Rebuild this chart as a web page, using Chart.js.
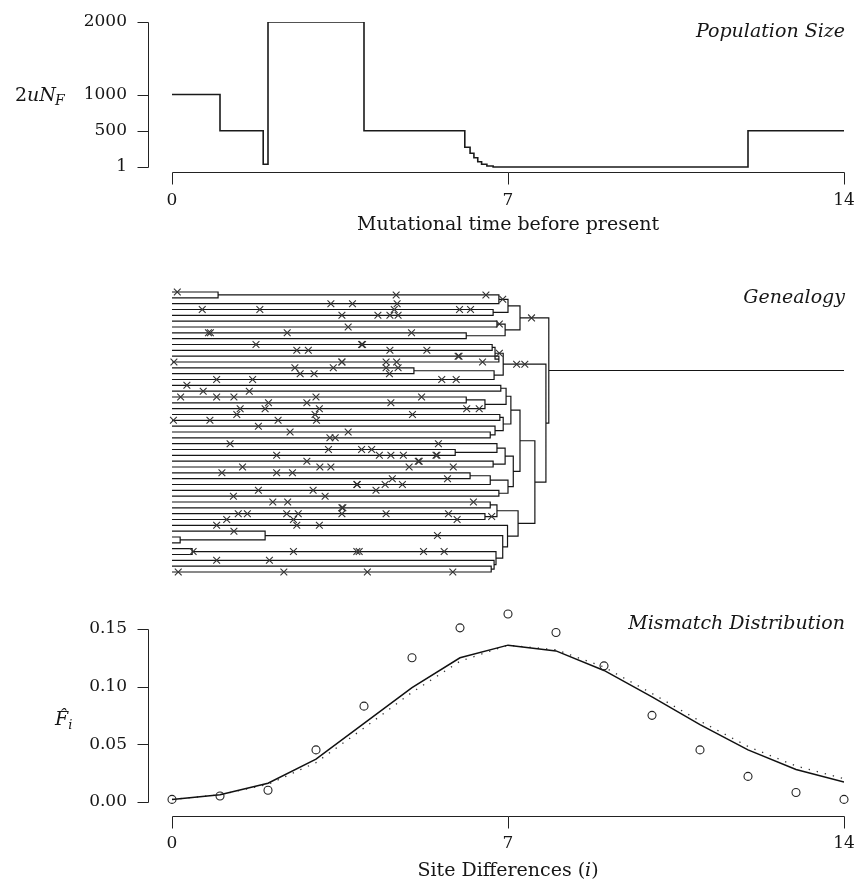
<!DOCTYPE html>
<html>
<head>
<meta charset="utf-8">
<script src="https://cdn.jsdelivr.net/npm/chart.js@4/dist/chart.umd.min.js"></script>
<style>
  html, body { margin: 0; padding: 0; background: #ffffff; }
  #wrap { position: relative; width: 859px; height: 885px; overflow: hidden; }
  canvas { position: absolute; left: 0; }
</style>
</head>
<body>
<div id="wrap">
  <canvas id="popChart" width="859" height="250" style="top:0px"></canvas>
  <canvas id="treeChart" width="859" height="340" style="top:250px"></canvas>
  <canvas id="misChart" width="859" height="295" style="top:590px"></canvas>
</div>
<script>
// ---------------- DATA ----------------
const timeTicks = [0, 7, 14];
const popTicks = [1, 500, 1000, 2000];
// population size (2uN_F) step function: value holds from each time to the next
const popTimes = [0, 1.0, 1.9, 2.0, 4.0, 6.10, 6.21, 6.29, 6.37, 6.45, 6.56, 6.69, 12.0, 14];
const popSizes = [1000, 500, 38, 2000, 500, 273, 190, 129, 74, 38, 15, 1, 500, 500];

const siteDiffs = [0, 1, 2, 3, 4, 5, 6, 7, 8, 9, 10, 11, 12, 13, 14];
const observedF = [0.002, 0.005, 0.010, 0.045, 0.083, 0.125, 0.151, 0.163, 0.147, 0.118, 0.075, 0.045, 0.022, 0.008, 0.002];
const expectedF = [0.002, 0.006, 0.016, 0.037, 0.068, 0.099, 0.125, 0.136, 0.131, 0.114, 0.091, 0.067, 0.045, 0.028, 0.017];
const expectedF2 = [0.002, 0.006, 0.015, 0.034, 0.064, 0.095, 0.122, 0.136, 0.132, 0.117, 0.094, 0.070, 0.048, 0.031, 0.020];
const freqTicks = [0, 0.05, 0.10, 0.15];

// genealogy: internal node = [time, left, right]; tip = row index
const genealogy =
[7.85,
  [7.25,
    [7.00, [6.81, [0.96, 0, 1], 2], [6.69, 3, 4]],
    [6.94, [6.77, 5, 6], [6.13, 7, 8]]
  ],
  [7.79,
    [6.90, [6.73, [6.67, 9, 10], [6.81, 11, 12]], [6.71, [5.04, 13, 14], 15]],
    [7.56,
      [7.25,
        [7.06, [6.96, [6.85, 16, 17], [6.52, [6.13, 18, 19], 20]], [6.90, [6.83, 21, 22], [6.73, 23, [6.63, 24, 25]]]],
        [7.11, [6.94, [6.77, 26, [5.90, 27, 28]], [6.69, 29, 30]], [7.00, [6.63, [6.21, 31, 32], 33], [6.81, 34, 35]]]
      ],
      [7.21,
        [6.77, [6.63, 36, 37], [6.52, 38, 39]],
        [6.99, 40, [6.89, [1.94, 41, [0.17, 42, 43]], [6.75, [0.42, 44, 45], [6.71, 46, [6.65, 47, 48]]]]]
      ]
    ]
  ]
];
const treeSpan = 14;

// mutations: [time, approximate row]
const mutations = [
 [0.11,0.3],[3.76,1.5],[3.31,2.4],[0.63,3.4],[1.83,3.4],[3.54,4.4],[3.67,6.4],[0.76,7.4],[0.80,7.4],[2.40,7.4],
 [1.75,9.4],[2.60,10.3],[2.84,10.3],[0.04,12.3],[3.54,11.9],[2.56,13.1],[3.36,13.4],[2.67,14.4],[2.96,14.4],[0.93,15.4],
 [1.68,15.4],[0.31,16.3],[0.65,17.3],[1.61,17.3],[0.18,18.2],[0.93,18.2],[1.29,18.2],[3.00,18.2],[2.81,19.3],[2.01,19.4],
 [1.42,20.4],[1.94,20.4],[3.07,20.2],[1.35,21.1],[2.98,21.1],[0.03,22.2],[0.79,22.2],[2.21,22.2],[3.01,22.2],[1.80,23.1],
 [4.67,0.1],[6.54,0.1],[4.69,1.5],[6.89,1.7],[4.63,3.4],[5.99,3.5],[6.22,3.5],[4.29,4.3],[4.54,4.3],[4.71,4.2],
 [7.49,4.2],[6.82,5.3],[4.99,7.4],[3.97,9.4],[3.95,9.4],[4.54,10.3],[5.31,10.3],[5.96,11.4],[5.98,11.4],[6.82,10.3],
 [7.18,11.7],[7.35,11.7],[3.54,12.3],[4.46,12.0],[4.68,12.0],[4.46,13.1],[4.71,13.1],[6.47,12.3],[4.53,14.4],[5.62,15.4],
 [5.92,15.4],[5.20,18.2],[4.56,19.4],[6.14,19.4],[6.40,20.4],[5.01,21.3],
 [2.46,24.2],[3.29,25.1],[3.40,25.1],[3.67,24.2],[1.21,26.1],[3.26,27.2],[2.18,28.1],[2.81,29.1],[3.08,30.1],[3.31,30.1],
 [1.47,30.1],[1.04,31.0],[2.18,31.0],[2.51,31.0],[3.85,32.9],[1.80,33.9],[2.94,33.9],[3.19,35.0],[1.28,35.1],[2.10,36.0],
 [2.41,36.0],[3.54,36.9],[3.56,36.9],[3.54,37.9],[1.38,37.9],[1.57,37.9],[2.39,37.9],[2.63,37.9],[1.14,38.9],[2.53,38.9],
 [0.93,40.1],[2.60,40.1],[3.07,40.1],[1.29,41.0],[2.53,43.7],[0.44,44.5],[3.85,43.7],[0.93,46.4],[2.03,46.4],[0.13,48.0],
 [2.33,48.0],
 [5.55,25.7],[3.95,27.2],[4.16,27.2],[4.32,28.1],[4.56,28.1],[4.82,28.1],[5.13,29.1],[5.15,29.1],[5.50,28.1],[5.52,28.1],
 [4.94,30.1],[5.86,30.1],[3.86,33.0],[4.44,33.0],[4.59,32.1],[4.80,33.0],[4.25,34.1],[5.74,32.1],[6.28,36.1],[4.46,37.9],
 [5.76,37.9],[5.94,39.0],[6.66,39.0],[5.53,41.4],[3.90,43.7],[5.24,43.7],[5.67,43.7],[4.07,48.0],[5.85,48.0]
];

// ---------------- HELPERS ----------------
const SERIF = '"DejaVu Serif", "Liberation Serif", serif';
const INK = '#161616';
Chart.defaults.animation = false;
Chart.defaults.events = [];
Chart.defaults.font.family = SERIF;
Chart.defaults.color = INK;

function rAxes(xt, yt) {
  return {
    id: 'rAxes',
    afterDatasetsDraw(chart) {
      const { ctx, chartArea: a, scales: { x, y } } = chart;
      ctx.save();
      ctx.strokeStyle = '#222';
      ctx.lineWidth = 1;
      ctx.beginPath();
      const by = Math.round(a.bottom) + 0.5;
      ctx.moveTo(Math.round(x.getPixelForValue(xt[0])) + 0.5, by);
      ctx.lineTo(Math.round(x.getPixelForValue(xt[xt.length - 1])) + 0.5, by);
      xt.forEach(v => { const p = Math.round(x.getPixelForValue(v)) + 0.5; ctx.moveTo(p, by); ctx.lineTo(p, by + 12); });
      const lx = Math.round(a.left) + 0.5;
      ctx.moveTo(lx, Math.round(y.getPixelForValue(yt[0])) + 0.5);
      ctx.lineTo(lx, Math.round(y.getPixelForValue(yt[yt.length - 1])) + 0.5);
      yt.forEach(v => { const p = Math.round(y.getPixelForValue(v)) + 0.5; ctx.moveTo(lx, p); ctx.lineTo(lx - 11, p); });
      ctx.stroke();
      ctx.restore();
    }
  };
}
function textPlugin(fn) {
  return { id: 'texts', afterDraw(chart) { const c = chart.ctx; c.save(); c.fillStyle = INK; c.textBaseline = 'alphabetic'; fn(chart, c); c.restore(); } };
}
function noPad(s) { s.paddingLeft = 0; s.paddingRight = 0; s.paddingTop = 0; s.paddingBottom = 0; }
function xScale(ticksArr, height, pad) {
  return {
    type: 'linear', min: -0.5, max: 14, bounds: 'data',
    afterBuildTicks: s => { s.ticks = ticksArr.map(v => ({ value: v })); },
    afterFit: s => { s.height = height; noPad(s); },
    grid: { display: false, drawTicks: false }, border: { display: false },
    ticks: { padding: pad, font: { size: 17, family: SERIF }, color: INK, maxRotation: 0, autoSkip: false, callback: v => String(v) }
  };
}
function yScale(ticksArr, min, max, fmt) {
  return {
    type: 'linear', min: min, max: max, bounds: 'data',
    afterBuildTicks: s => { s.ticks = ticksArr.map(v => ({ value: v })); },
    afterFit: s => { s.width = 148; noPad(s); },
    grid: { display: false, drawTicks: false }, border: { display: false },
    ticks: { padding: 21, font: { size: 17, family: SERIF }, color: INK, autoSkip: false, callback: fmt }
  };
}

// ---------------- PANEL 1: population size ----------------
new Chart(document.getElementById('popChart'), {
  type: 'scatter',
  data: { datasets: [{
    data: popTimes.map((t, i) => ({ x: t, y: popSizes[i] })),
    showLine: true, stepped: true, borderColor: '#1a1a1a', borderWidth: 1.6,
    pointRadius: 0, fill: false
  }] },
  options: {
    responsive: false,
    layout: { padding: { left: 0, right: 15, top: 22, bottom: 0 } },
    plugins: { legend: { display: false }, tooltip: { enabled: false } },
    scales: {
      x: xScale(timeTicks, 78, 18),
      y: yScale(popTicks, 1 - 5 * 1999 / 145, 2000, v => String(v))
    }
  },
  plugins: [rAxes(timeTicks, popTicks), textPlugin((chart, c) => {
    const xs = chart.scales.x;
    c.font = 'italic 19px ' + SERIF; c.textAlign = 'right';
    c.fillText('Population Size', 845, 37);
    c.font = '19px ' + SERIF; c.textAlign = 'center';
    c.fillText('Mutational time before present', xs.getPixelForValue(7), 230);
    c.textAlign = 'left';
    let x0 = 15;
    c.font = '19px ' + SERIF; c.fillText('2', x0, 101); x0 += c.measureText('2').width;
    c.font = 'italic 19px ' + SERIF; c.fillText('uN', x0, 101); x0 += c.measureText('uN').width;
    c.font = 'italic 14px ' + SERIF; c.fillText('F', x0 - 1, 105);
  })]
});

// ---------------- PANEL 2: genealogy ----------------
const treeSegs = [];
const branches = [];
function layout(node) {
  if (!Array.isArray(node)) return { y: node, h: 0 };
  const [h, a, b] = node;
  const A = layout(a), B = layout(b);
  treeSegs.push({ x: A.h, y: A.y }, { x: h, y: A.y }, { x: h, y: B.y }, { x: B.h, y: B.y }, { x: h, y: null });
  branches.push({ y: A.y, x0: A.h, x1: h }, { y: B.y, x0: B.h, x1: h });
  return { y: (A.y + B.y) / 2, h: h };
}
const rootPos = layout(genealogy);
treeSegs.push({ x: rootPos.h, y: rootPos.y }, { x: treeSpan, y: rootPos.y });
branches.push({ y: rootPos.y, x0: rootPos.h, x1: treeSpan });
// place each mutation on the branch that covers its time and is nearest to its row
const mutPoints = mutations.map(([t, r]) => {
  let best = null, bd = Infinity;
  branches.forEach(b => { if (t >= b.x0 && t <= b.x1) { const d = Math.abs(b.y - r); if (d < bd) { bd = d; best = b; } } });
  return { x: t, y: best ? best.y : r };
});

new Chart(document.getElementById('treeChart'), {
  type: 'scatter',
  data: { datasets: [
    { data: mutPoints, showLine: false, pointStyle: 'crossRot', pointRadius: 4.8,
      pointBorderColor: '#333', borderColor: '#333', pointBorderWidth: 1.1, backgroundColor: 'transparent' },
    { data: treeSegs, showLine: true, spanGaps: false, borderColor: '#151515', borderWidth: 1.2,
      pointRadius: 0, fill: false }
  ] },
  options: {
    responsive: false,
    layout: { padding: { left: 148, right: 15, top: 35, bottom: 10 } },
    plugins: { legend: { display: false }, tooltip: { enabled: false } },
    scales: {
      x: { type: 'linear', display: false, min: -0.5, max: 14 },
      y: { type: 'linear', display: false, min: -1.2, max: 49.37, reverse: true }
    }
  },
  plugins: [textPlugin((chart, c) => {
    c.font = 'italic 19px ' + SERIF; c.textAlign = 'right';
    c.fillText('Genealogy', 845, 53);
  })]
});

// ---------------- PANEL 3: mismatch distribution ----------------
new Chart(document.getElementById('misChart'), {
  type: 'scatter',
  data: { datasets: [
    { data: siteDiffs.map((s, i) => ({ x: s, y: observedF[i] })), showLine: false,
      pointStyle: 'circle', pointRadius: 4, pointBorderWidth: 1.1, pointBorderColor: '#222',
      borderColor: '#222', pointBackgroundColor: 'rgba(0,0,0,0)', backgroundColor: 'rgba(0,0,0,0)', clip: false },
    { data: siteDiffs.map((s, i) => ({ x: s, y: expectedF[i] })), showLine: true,
      borderColor: '#111', borderWidth: 1.5, pointRadius: 0, fill: false },
    { data: siteDiffs.map((s, i) => ({ x: s, y: expectedF2[i] })), showLine: true,
      borderColor: '#333', borderWidth: 1.3, borderDash: [1.3, 7], pointRadius: 0, fill: false }
  ] },
  options: {
    responsive: false,
    layout: { padding: { left: 0, right: 15, top: 16, bottom: 0 } },
    plugins: { legend: { display: false }, tooltip: { enabled: false } },
    scales: {
      x: xScale(timeTicks, 69, 17),
      y: yScale(freqTicks, -0.01242, 0.17, v => v.toFixed(2))
    }
  },
  plugins: [rAxes(timeTicks, freqTicks), textPlugin((chart, c) => {
    const xs = chart.scales.x;
    c.font = 'italic 19px ' + SERIF; c.textAlign = 'right';
    c.fillText('Mismatch Distribution', 845, 39);
    // x axis title with italic i
    const f1 = '19px ' + SERIF, f2 = 'italic 19px ' + SERIF;
    c.font = f1; const w1 = c.measureText('Site Differences (').width, w3 = c.measureText(')').width;
    c.font = f2; const w2 = c.measureText('i').width;
    let x0 = xs.getPixelForValue(7) - (w1 + w2 + w3) / 2;
    c.textAlign = 'left';
    c.font = f1; c.fillText('Site Differences (', x0, 286); x0 += w1;
    c.font = f2; c.fillText('i', x0, 286); x0 += w2;
    c.font = f1; c.fillText(')', x0, 286);
    // y label F-hat sub i
    c.font = 'italic 19px ' + SERIF;
    c.fillText('F\u0302', 55, 135);
    const wf = c.measureText('F').width;
    c.font = 'italic 13px ' + SERIF;
    c.fillText('i', 55 + wf, 139);
  })]
});
</script>
</body>
</html>
